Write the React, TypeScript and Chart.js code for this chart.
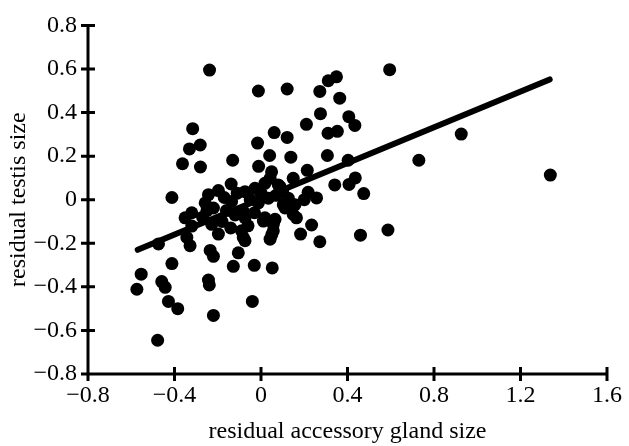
import React, { useEffect, useRef } from "react";
import { Chart, registerables } from "chart.js";

Chart.register(...registerables);

const pointX: number[] = [
  -0.238, -0.012, -0.316, -0.281, -0.331, -0.363, -0.28, -0.131, -0.016, 0.061,
  -0.011, 0.04, -0.138, -0.412, -0.197, -0.243, 0.595, 0.121, 0.349, 0.311,
  0.272, 0.364, 0.275, 0.21, 0.406, 0.434, 0.31, 0.353, 0.121, 0.926,
  0.307, 0.73, 0.403, 0.214, 0.138, 0.149, 0.341, 0.407, 0.436, 0.475,
  0.218, 0.257, 0.088, 0.134, 1.338, 0.164, 0.234, 0.183, 0.272, 0.46,
  0.587, 0.052, 0.05, 0.065, 0.111, 0.157, -0.474, -0.412, -0.554, -0.574,
  -0.459, -0.443, -0.428, -0.385, -0.478, -0.351, -0.343, -0.328, -0.235, -0.22,
  -0.105, -0.128, -0.031, -0.243, -0.239, -0.22, -0.04, -0.32, -0.197, -0.082,
  -0.09, -0.074, 0.011, 0.057, -0.228, -0.074, 0.057, 0.042, -0.074, -0.028,
  0.018, 0.049, -0.258, -0.22, -0.32, -0.136, -0.082, -0.012, 0.034, 0.018,
  0.08, 0.042, 0.126, 0.103, 0.149, -0.17, -0.11, -0.05, 0.0, -0.16,
  -0.12, -0.03, 0.07, -0.27, -0.18, -0.06, -0.14, 0.1, -0.25, 0.2,
];

const pointY: number[] = [
  0.595, 0.499, 0.326, 0.251, 0.233, 0.165, 0.15, 0.181, 0.26, 0.308,
  0.153, 0.203, 0.072, 0.01, 0.042, 0.023, 0.597, 0.508, 0.564, 0.546,
  0.497, 0.466, 0.395, 0.346, 0.381, 0.341, 0.305, 0.314, 0.286, 0.301,
  0.203, 0.181, 0.181, 0.135, 0.195, 0.098, 0.068, 0.07, 0.1, 0.028,
  0.034, 0.008, 0.06, -0.015, 0.113, -0.083, -0.116, -0.158, -0.193, -0.163,
  -0.139, -0.313, -0.16, -0.09, -0.038, -0.023, -0.203, -0.293, -0.342, -0.411,
  -0.376, -0.402, -0.467, -0.5, -0.645, -0.083, -0.173, -0.211, -0.233, -0.26,
  -0.244, -0.306, -0.301, -0.369, -0.391, -0.531, -0.467, -0.121, -0.158, -0.173,
  -0.143, -0.083, -0.098, -0.113, -0.113, -0.188, -0.143, -0.181, 0.037, 0.052,
  0.075, 0.128, -0.015, -0.038, -0.06, -0.008, -0.053, -0.015, 0.007, -0.083,
  0.068, 0.098, 0.007, -0.023, -0.068, 0.01, 0.03, 0.0, 0.03, -0.05,
  -0.07, -0.06, 0.02, -0.08, -0.1, -0.12, -0.13, 0.04, -0.05, 0.0,
];

const fitX: number[] = [-0.57, 1.335];
const fitY: number[] = [-0.23, 0.552];

const xTicks: number[] = [-0.8, -0.4, 0, 0.4, 0.8, 1.2, 1.6];
const yTicks: number[] = [-0.8, -0.6, -0.4, -0.2, 0, 0.2, 0.4, 0.6, 0.8];

const xTitle = "residual accessory gland size";
const yTitle = "residual testis size";

const fmt = (v: number) => {
  const r = Math.round(v * 10) / 10;
  if (r === 0) return "0";
  const s = Math.abs(r).toFixed(1);
  return r < 0 ? "\u2212" + s : s;
};

const axesPlugin = {
  id: "crossAxes",
  afterDatasetsDraw(chart: any) {
    const { ctx, scales } = chart;
    const xs = scales.x;
    const ys = scales.y;
    ctx.save();
    ctx.strokeStyle = "#000";
    ctx.lineWidth = 3;
    ctx.lineCap = "butt";
    const left = xs.getPixelForValue(-0.8);
    const right = xs.getPixelForValue(1.6);
    const top = ys.getPixelForValue(0.8);
    const bottom = ys.getPixelForValue(-0.8);
    ctx.beginPath();
    ctx.moveTo(left, top - 1.5);
    ctx.lineTo(left, bottom + 1.5);
    ctx.moveTo(left - 1.5, bottom);
    ctx.lineTo(right + 1.5, bottom);
    for (const t of yTicks) {
      const py = ys.getPixelForValue(t);
      ctx.moveTo(left - 7, py);
      ctx.lineTo(left + 7, py);
    }
    for (const t of xTicks) {
      const px = xs.getPixelForValue(t);
      ctx.moveTo(px, bottom - 7);
      ctx.lineTo(px, bottom + 7);
    }
    ctx.stroke();
    ctx.restore();
  },
};

export default function App() {
  const ref = useRef<HTMLCanvasElement | null>(null);
  useEffect(() => {
    if (!ref.current) return;
    const tickFont = { family: "Liberation Serif", size: 24 };
    const titleFont = { family: "Liberation Serif", size: 24 };
    const chart = new Chart(ref.current, {
      type: "scatter",
      data: {
        datasets: [
          {
            type: "scatter",
            data: pointX.map((x, i) => ({ x, y: pointY[i] })),
            backgroundColor: "#000",
            borderColor: "#000",
            pointRadius: 6.5,
            pointHoverRadius: 6.5,
            borderWidth: 0,
            clip: false as any,
            order: 2,
          },
          {
            type: "line",
            data: fitX.map((x, i) => ({ x, y: fitY[i] })),
            borderColor: "#000",
            borderWidth: 6,
            borderCapStyle: "round",
            pointRadius: 0,
            fill: false,
            clip: false as any,
            order: 1,
          } as any,
        ],
      },
      options: {
        animation: false,
        responsive: false,
        maintainAspectRatio: false,
        layout: { padding: { left: 0, top: 20, right: 20, bottom: 0 } },
        plugins: {
          legend: { display: false },
          tooltip: { enabled: false },
        },
        scales: {
          x: {
            type: "linear",
            min: -0.8,
            max: 1.6,
            afterBuildTicks: (s: any) => {
              s.ticks = xTicks.map((v) => ({ value: v }));
            },
            afterFit: (s: any) => {
              s.height = 72;
            },
            grid: { display: false, drawTicks: false },
            border: { display: false },
            ticks: {
              color: "#000",
              font: tickFont,
              padding: 7,
              maxRotation: 0,
              autoSkip: false,
              callback: (v: any) => fmt(Number(v)),
            },
            title: {
              display: true,
              text: xTitle,
              color: "#000",
              font: titleFont,
              padding: { top: 0, bottom: 0 },
            },
          },
          y: {
            type: "linear",
            min: -0.8,
            max: 0.8,
            afterBuildTicks: (s: any) => {
              s.ticks = yTicks.map((v) => ({ value: v }));
            },
            afterFit: (s: any) => {
              s.width = 88;
            },
            grid: { display: false, drawTicks: false },
            border: { display: false },
            ticks: {
              color: "#000",
              font: tickFont,
              padding: 11,
              autoSkip: false,
              callback: (v: any) => fmt(Number(v)),
            },
            title: {
              display: true,
              text: yTitle,
              color: "#000",
              font: titleFont,
              padding: { top: 4, bottom: 0 },
            },
          },
        },
      },
      plugins: [axesPlugin],
    });
    return () => chart.destroy();
  }, []);
  return (
    <div style={{ position: "absolute", left: 0, top: 0, width: 629, height: 446, background: "#fff" }}>
      <canvas ref={ref} width={629} height={446} style={{ width: 629, height: 446, display: "block" }} />
    </div>
  );
}
